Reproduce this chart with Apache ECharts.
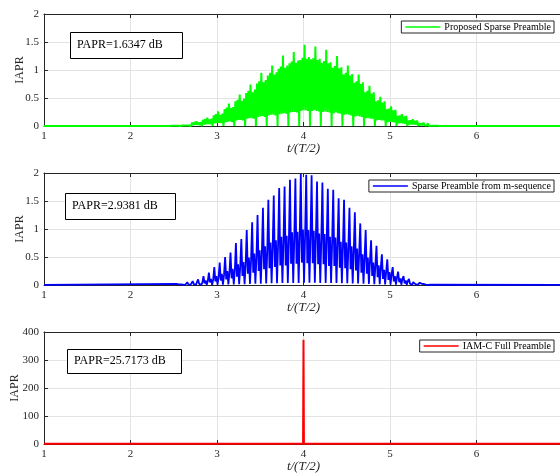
<!DOCTYPE html>
<html><head><meta charset="utf-8">
<script src="https://cdn.jsdelivr.net/npm/echarts@6/dist/echarts.min.js"></script>
<style>html,body{margin:0;padding:0;background:#fff}#c{width:560px;height:473px}</style>
</head><body><div id="c"></div>
<script>
// ---------- data ----------
const xTicks = [1, 2, 3, 4, 5, 6, 7];
const yTicksTop = [0, 0.5, 1, 1.5, 2];
const yTicksBottom = [0, 100, 200, 300, 400];
const seriesNames = ['Proposed Sparse Preamble', 'Sparse Preamble from m-sequence', 'IAM-C Full Preamble'];
const paprLabels = ['PAPR=1.6347 dB', 'PAPR=2.9381 dB', 'PAPR=25.7173 dB'];
const baseLevel = 0.002;

// proposed sparse preamble: samples start at t=2.45, step 0.0125 (T/2 units)
const greenStart = 2.45, greenStep = 0.0125;
const greenIAPR = [
  0, .012, .004, .015, .005, .02, .005, .014, .004, .016,
  0, .03, .008, .035, .01, .045, .01, .033, .009, .038,
  0, .06, .015, .068, .018, .085, .02, .065, .017, .072,
  0, .11, .028, .12, .032, .15, .035, .118, .03, .13,
  0, .19, .045, .21, .05, .26, .055, .2, .05, .22,
  0, .3, .07, .33, .075, .4, .08, .32, .07, .34,
  0, .44, .1, .47, .11, .56, .11, .45, .1, .49,
  0, .59, .13, .63, .14, .74, .14, .6, .13, .65,
  0, .76, .16, .8, .17, .95, .18, .78, .16, .82,
  0, .9, .19, .95, .2, 1.08, .2, .92, .19, .96,
  0, 1.02, .21, 1.06, .22, 1.26, .23, 1.04, .22, 1.08,
  0, 1.12, .24, 1.15, .25, 1.32, .25, 1.13, .24, 1.17,
  0, 1.18, .27, 1.22, .28, 1.45, .28, 1.2, .27, 1.23,
  0, 1.19, .27, 1.21, .28, 1.42, .27, 1.18, .26, 1.2,
  0, 1.13, .25, 1.16, .26, 1.36, .25, 1.12, .24, 1.14,
  0, 1.04, .23, 1.07, .24, 1.25, .23, 1.03, .22, 1.05,
  0, .92, .2, .95, .21, 1.08, .2, .9, .19, .93,
  0, .77, .17, .8, .18, .92, .17, .75, .16, .78,
  0, .6, .14, .63, .14, .72, .13, .58, .13, .6,
  0, .44, .1, .46, .11, .52, .1, .42, .1, .44,
  0, .3, .07, .31, .075, .35, .07, .28, .065, .29,
  0, .18, .045, .19, .05, .21, .045, .17, .04, .18,
  0, .1, .025, .105, .027, .12, .025, .095, .022, .1,
  0, .05, .012, .052, .013, .06, .012, .045, .01, .048,
  0, .02, .005, .022, .006, .025, .005, .018, .004, .02,
  0
];

// sparse preamble from m-sequence: samples start at t=2.53125, step 0.0125
const blueStart = 2.53125, blueStep = 0.0125;
const blueIAPR = [
  .02, .005, .01, .001, .009,
  .03, .006, .015, .001, .013,
  .05, .01, .025, .002, .022,
  .07, .015, .035, .002, .03,
  .1, .02, .05, .003, .045,
  .16, .03, .08, .004, .07,
  .22, .045, .11, .005, .1,
  .32, .065, .16, .007, .14,
  .4, .08, .2, .008, .18,
  .5, .1, .25, .01, .22,
  .58, .12, .29, .012, .26,
  .75, .15, .37, .015, .33,
  .82, .16, .41, .016, .37,
  .98, .2, .49, .02, .44,
  1.12, .22, .56, .022, .5,
  1.25, .25, .62, .025, .56,
  1.38, .28, .69, .028, .62,
  1.52, .3, .76, .03, .68,
  1.6, .32, .8, .032, .72,
  1.73, .35, .86, .035, .78,
  1.76, .35, .88, .035, .79,
  1.88, .38, .94, .038, .85,
  1.9, .38, .95, .038, .86,
  1.98, .4, .99, .04, .9,
  1.97, .39, .98, .04, .89,
  1.96, .39, .97, .039, .88,
  1.85, .37, .92, .037, .83,
  1.83, .37, .91, .037, .82,
  1.72, .34, .86, .034, .77,
  1.7, .34, .85, .034, .76,
  1.55, .31, .77, .031, .7,
  1.52, .3, .76, .03, .68,
  1.38, .28, .69, .028, .62,
  1.3, .26, .65, .026, .58,
  1.1, .22, .55, .022, .5,
  .98, .2, .49, .02, .44,
  .8, .16, .4, .016, .36,
  .7, .14, .35, .014, .31,
  .55, .11, .27, .011, .25,
  .46, .09, .23, .009, .2,
  .32, .065, .16, .007, .14,
  .24, .05, .12, .005, .11,
  .16, .03, .08, .004, .07,
  .11, .022, .055, .003, .05,
  .07, .014, .035, .002, .03,
  .04, .008, .02, .001, .018,
  .02, .004, .01, .001, .009,
  .005
];

// IAM-C full preamble
const redT = [1, 3.995, 4, 4.005, 7];
const redIAPR = [1, 1, 372, 1, 1];

// ---------- build ----------
function sampled(t0, step, vals) { return vals.map((v, i) => [t0 + i * step, v]); }
const xMin = xTicks[0], xMax = xTicks[xTicks.length - 1];
const greenData = [[xMin, baseLevel]].concat(sampled(greenStart, greenStep, greenIAPR), [[xMax, baseLevel]]);
const blueData = [[xMin, baseLevel]].concat(sampled(blueStart, blueStep, blueIAPR), [[xMax, baseLevel]]);
const redData = redT.map((t, i) => [t, redIAPR[i]]);

const FONT = 'Liberation Serif';
const AX = '#262626';
const grids = [
  { left: 44, top: 14, width: 519, height: 112, outerBoundsMode: 'none', containLabel: false },
  { left: 44, top: 173, width: 519, height: 112, outerBoundsMode: 'none', containLabel: false },
  { left: 44, top: 332, width: 519, height: 112, outerBoundsMode: 'none', containLabel: false }
];
const xAxes = [], yAxes = [];
grids.forEach((g, i) => {
  xAxes.push({
    type: 'value', gridIndex: i, min: xMin, max: xMax, interval: 1,
    name: 't/(T/2)', nameLocation: 'middle', nameGap: 16, nameMoveOverlap: false,
    nameTextStyle: { fontFamily: FONT, fontStyle: 'italic', fontSize: 13, color: AX },
    axisLine: { onZero: false, lineStyle: { color: AX, width: 1 } },
    axisTick: { inside: true, length: 4, lineStyle: { color: AX } },
    axisLabel: { fontFamily: FONT, fontSize: 11, color: AX, margin: 5, formatter: v => (v === xMax ? '' : String(v)) },
    splitLine: { show: true, lineStyle: { color: '#e3e3e3', width: 1 } }
  });
  xAxes.push({
    type: 'value', gridIndex: i, position: 'top', min: xMin, max: xMax, interval: 1,
    axisLine: { onZero: false, lineStyle: { color: AX, width: 1 } },
    axisTick: { inside: true, length: 4, lineStyle: { color: AX } },
    axisLabel: { show: false }, splitLine: { show: false }
  });
  const yt = i === 2 ? yTicksBottom : yTicksTop;
  yAxes.push({
    type: 'value', gridIndex: i, min: yt[0], max: yt[yt.length - 1], interval: yt[1] - yt[0],
    name: 'IAPR', nameLocation: 'middle', nameGap: i === 2 ? 23 : 18, nameMoveOverlap: false,
    nameTextStyle: { fontFamily: FONT, fontSize: 12, color: AX },
    axisLine: { show: true, onZero: false, lineStyle: { color: AX, width: 1 } },
    axisTick: { show: true, inside: true, length: 4, lineStyle: { color: AX } },
    axisLabel: { fontFamily: FONT, fontSize: 11, color: AX, margin: 5 },
    splitLine: { show: true, lineStyle: { color: '#e3e3e3', width: 1 } }
  });
});

const colors = ['#00ff00', '#0000ff', '#ff0000'];
const datas = [greenData, blueData, redData];
const widths = [2, 1.8, 2];
const series = datas.map((d, i) => ({
  name: seriesNames[i], type: 'line', xAxisIndex: i * 2, yAxisIndex: i,
  data: d, showSymbol: false, symbol: 'none', sampling: null, animation: false,
  lineStyle: { color: colors[i], width: widths[i] }, itemStyle: { color: colors[i] },
  z: 3
}));

const legendTops = [21, 180, 340];
const legends = seriesNames.map((n, i) => ({
  data: [n], right: 6, top: legendTops[i], orient: 'horizontal',
  icon: 'rect', itemWidth: 35, itemHeight: 1.5, itemGap: 4,
  padding: [1, 3, 1, 4], backgroundColor: '#fff',
  borderColor: AX, borderWidth: 1,
  textStyle: { fontFamily: FONT, fontSize: 10, color: '#000', padding: [0, 0, 0, -1] },
  selectedMode: false
}));

const boxes = [
  { x: 70, y: 32, w: 112, h: 26 },
  { x: 65, y: 193, w: 110, h: 26 },
  { x: 67, y: 349, w: 114, h: 24 }
];
const graphic = [];
boxes.forEach((b, i) => {
  graphic.push({ type: 'rect', left: b.x, top: b.y, shape: { width: b.w, height: b.h }, style: { fill: '#fff', stroke: '#000', lineWidth: 1 }, z: 100 });
  graphic.push({ type: 'text', x: b.x + 7, y: b.y + b.h / 2, style: { text: paprLabels[i], font: '12px "Liberation Serif"', fill: '#000', textVerticalAlign: 'middle', verticalAlign: 'middle' }, z: 101 });
});

const chart = echarts.init(document.getElementById('c'), null, { renderer: 'canvas' });
chart.setOption({
  animation: false,
  backgroundColor: '#fff',
  grid: grids,
  xAxis: xAxes,
  yAxis: yAxes,
  legend: legends,
  series: series,
  graphic: graphic
});
</script>
</body></html>
